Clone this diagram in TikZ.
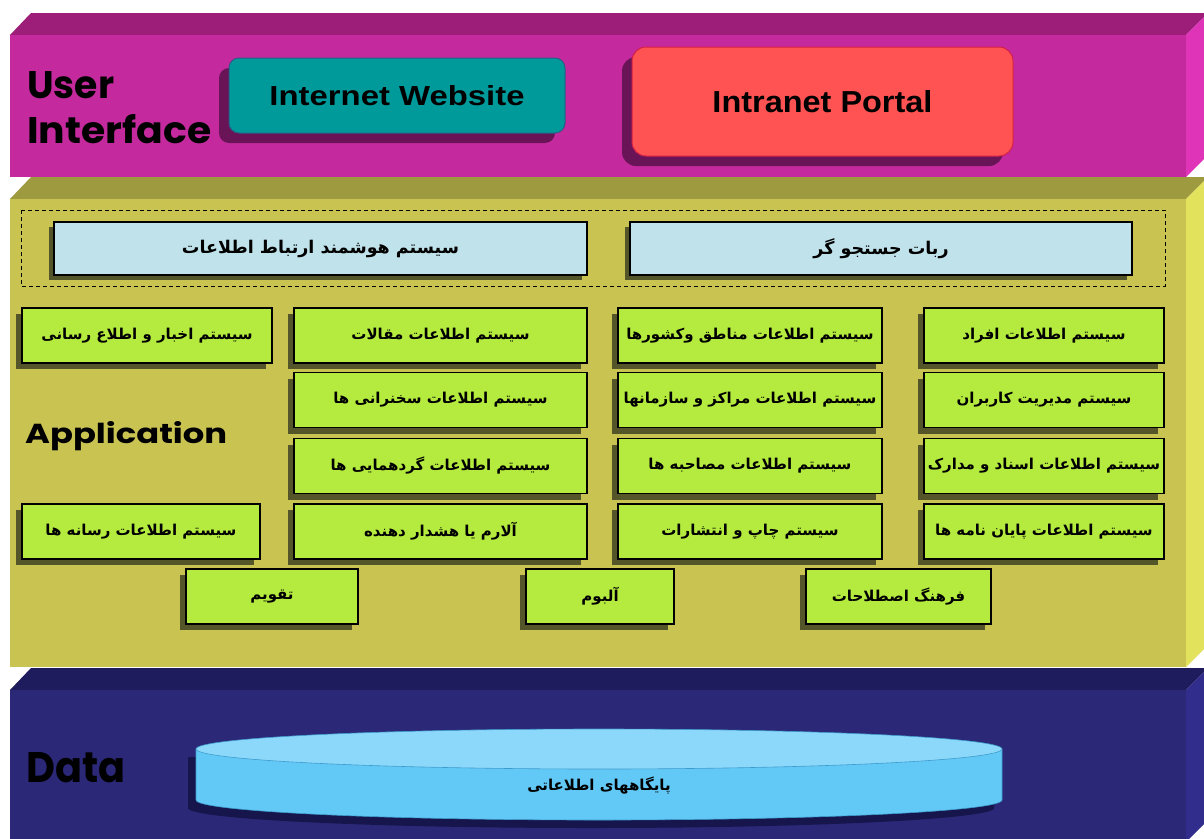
\documentclass[tikz,border=0pt]{standalone}
\usepackage{fontspec}
\usepackage{graphicx}
\usetikzlibrary{shadows}
\TeXXeTstate=1
\setmainfont{Liberation Sans}
\newfontfamily\fa[Script=Arabic]{DejaVu Sans}
\newfontfamily\geo{Poppins}
\newcommand\rtl[1]{\beginR#1\endR}
\definecolor{magF}{HTML}{C42A9E}
\definecolor{magT}{HTML}{9C1E78}
\definecolor{magS}{HTML}{E034B8}
\definecolor{oliF}{HTML}{C9C452}
\definecolor{oliT}{HTML}{9E9A40}
\definecolor{oliS}{HTML}{E2E25C}
\definecolor{navF}{HTML}{2B2878}
\definecolor{navT}{HTML}{1E1C5C}
\definecolor{navS}{HTML}{302D8C}
\definecolor{limeF}{HTML}{B4EB3E}
\definecolor{blueF}{HTML}{C0E2EA}
\definecolor{gshad}{HTML}{55552A}
\definecolor{tealF}{HTML}{009A9A}
\definecolor{tealB}{HTML}{2A5C86}
\definecolor{redF}{HTML}{FF5252}
\definecolor{redB}{HTML}{D42048}
\definecolor{purS}{HTML}{6A1458}
\definecolor{cylTop}{HTML}{8CD8FA}
\definecolor{cylSide}{HTML}{62C8F6}
\definecolor{cylEdge}{HTML}{3E9CCC}
\definecolor{cylShad}{HTML}{16154C}
\newcommand\slab[5]{%
  \fill[#4] (10,#1) -- (31,#1-22) -- (1208,#1-22) -- (1186,#1) -- cycle;
  \fill[#5] (1186,#1) -- (1208,#1-22) -- (1208,#2-22) -- (1186,#2) -- cycle;
  \fill[#3] (10,#1) rectangle (1186,#2);}
\tikzset{
  gbox/.style={draw=black, line width=1.2pt, fill=limeF, minimum height=55pt, inner sep=0pt,
    font=\fa\bfseries\fontsize{15}{18}\selectfont,
    drop shadow={shadow xshift=-6pt, shadow yshift=-6pt, opacity=1, fill=gshad}},
  bbox/.style={draw=black, line width=1.2pt, fill=blueF, minimum height=53pt, inner sep=0pt,
    font=\fa\bfseries\fontsize{17.5}{21}\selectfont,
    drop shadow={shadow xshift=-5pt, shadow yshift=-5pt, opacity=1, fill=gshad}},
  uibox/.style={line width=1pt, inner sep=0pt,
    drop shadow={shadow xshift=-10pt, shadow yshift=-10pt, opacity=1, fill=purS}},
  lbl/.style={anchor=base west, inner sep=0pt}
}
\begin{document}
\begin{tikzpicture}[x=1pt,y=-1pt]
\useasboundingbox (0,0) rectangle (1204,838);
\fill[white] (0,0) rectangle (1204,838);
% layers, bottom first
\slab{690}{842}{navF}{navT}{navS}
\slab{199}{667}{oliF}{oliT}{oliS}
\slab{35}{177}{magF}{magT}{magS}

% User interface layer
\node[lbl] (ui1) at (27,98) {\resizebox{87pt}{27pt}{\geo\bfseries User}};
\node[lbl] (ui2) at (27,143) {\resizebox{184pt}{29pt}{\geo\bfseries Interface}};
\node[uibox, draw=tealB, fill=tealF, rounded corners=10pt, minimum width=336pt, minimum height=75pt]
  (web) at (397,95.5) {\resizebox{255pt}{20pt}{\bfseries Internet Website}};
\node[uibox, draw=redB, fill=redF, rounded corners=14pt, minimum width=381pt, minimum height=109pt]
  (portal) at (822.5,101.5) {\resizebox{220pt}{22pt}{\bfseries Intranet Portal}};

% Application layer
\node[lbl] (app) at (25,443) {\resizebox{202pt}{22pt}{\geo\bfseries Application}};
\draw[black, line width=0.9pt, dash pattern=on 4pt off 3pt] (21,210) rectangle (1165,286);
\node[bbox, minimum width=533pt] (b1) at (320.5,248.5) {\rtl{سیستم هوشمند ارتباط اطلاعات}};
\node[bbox, minimum width=502pt] (b2) at (881,248.5) {\rtl{ربات جستجو گر}};

\node[gbox, minimum width=250pt] (a1) at (147,335.5) {\rtl{سیستم اخبار و اطلاع رسانی}};
\node[gbox, minimum width=293pt] (p1) at (440.5,335.5) {\rtl{سیستم اطلاعات مقالات}};
\node[gbox, minimum width=264pt] (c1) at (750,335.5) {\rtl{سیستم اطلاعات مناطق وکشورها}};
\node[gbox, minimum width=240pt] (d1) at (1044,335.5) {\rtl{سیستم اطلاعات افراد}};

\node[gbox, minimum width=293pt] (p2) at (440.5,400) {\rtl{سیستم اطلاعات سخنرانی ها}};
\node[gbox, minimum width=264pt] (c2) at (750,400) {\rtl{سیستم اطلاعات مراکز و سازمانها}};
\node[gbox, minimum width=240pt] (d2) at (1044,400) {\rtl{سیستم مدیریت کاربران}};

\node[gbox, minimum width=293pt] (p3) at (440.5,466) {\rtl{سیستم اطلاعات گردهمایی ها}};
\node[gbox, minimum width=264pt] (c3) at (750,466) {\rtl{سیستم اطلاعات مصاحبه ها}};
\node[gbox, minimum width=240pt] (d3) at (1044,466) {\rtl{سیستم اطلاعات اسناد و مدارک}};

\node[gbox, minimum width=238pt] (a4) at (141,531.5) {\rtl{سیستم اطلاعات رسانه ها}};
\node[gbox, minimum width=293pt] (p4) at (440.5,531.5) {\rtl{آلارم یا هشدار دهنده}};
\node[gbox, minimum width=264pt] (c4) at (750,531.5) {\rtl{سیستم چاپ و انتشارات}};
\node[gbox, minimum width=240pt] (d4) at (1044,531.5) {\rtl{سیستم اطلاعات پایان نامه ها}};

\node[gbox, minimum width=172pt] (e1) at (272,596.5) {\rtl{تقویم}};
\node[gbox, minimum width=148pt] (e2) at (600,596.5) {\rtl{آلبوم}};
\node[gbox, minimum width=185pt] (e3) at (898.5,596.5) {\rtl{فرهنگ اصطلاحات}};

% Data layer
\node[lbl] (data) at (26,782) {\resizebox{99pt}{30pt}{\geo\bfseries Data}};
\fill[cylShad] (188,757) -- (188,808) arc[start angle=180, end angle=0, x radius=403, y radius=20] -- (994,757) -- cycle;
\fill[cylSide] (196,749) -- (196,800) arc[start angle=180, end angle=0, x radius=403, y radius=20] -- (1002,749) -- cycle;
\draw[cylEdge, line width=0.6pt] (196,749) -- (196,800) arc[start angle=180, end angle=0, x radius=403, y radius=20] -- (1002,749);
\filldraw[fill=cylTop, draw=cylEdge, line width=0.6pt] (599,749) ellipse[x radius=403, y radius=20];
\node[inner sep=0pt, font=\fa\bfseries\fontsize{15}{18}\selectfont] (db) at (599,785) {\rtl{پایگاههای اطلاعاتی}};
\end{tikzpicture}
\end{document}
